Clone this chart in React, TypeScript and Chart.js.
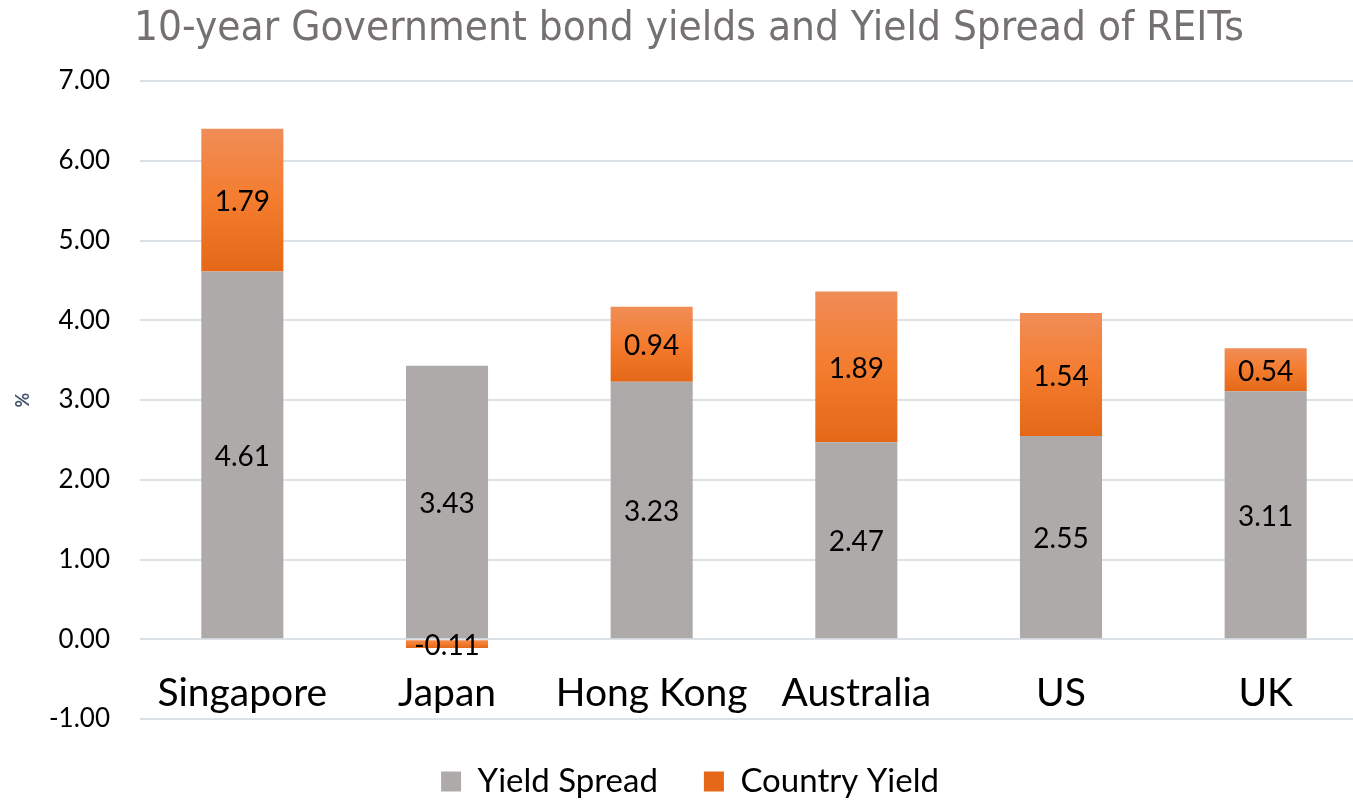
import React, { useEffect, useRef } from "react";
import { Chart, registerables } from "chart.js";

Chart.register(...registerables);

const TITLE = "10-year Government bond yields and Yield Spread of REITs";
const categories = ["Singapore", "Japan", "Hong Kong", "Australia", "US", "UK"];
const yieldSpread = [4.61, 3.43, 3.23, 2.47, 2.55, 3.11];
const countryYield = [1.79, -0.11, 0.94, 1.89, 1.54, 0.54];
const yTickValues = [-1, 0, 1, 2, 3, 4, 5, 6, 7];
const seriesNames = ["Yield Spread", "Country Yield"];
const yAxisTitle = "%";

const GRAY = "#AEAAAA";
const ORANGE_TOP = "#F08D57";
const ORANGE_MID = "#F47C2E";
const ORANGE_BOT = "#E46818";

const orangeFill = (c: any) => {
  const chart = c.chart;
  const i = c.dataIndex;
  if (i === undefined || !chart.chartArea || !chart.scales || !chart.scales.y) return ORANGE_MID;
  const v = countryYield[i];
  const base = v >= 0 ? yieldSpread[i] : 0;
  const end = base + v;
  const yScale = chart.scales.y;
  const yTop = yScale.getPixelForValue(Math.max(base, end));
  const yBot = yScale.getPixelForValue(Math.min(base, end));
  if (!isFinite(yTop) || !isFinite(yBot) || yTop === yBot) return ORANGE_MID;
  const g = chart.ctx.createLinearGradient(0, yTop, 0, yBot);
  g.addColorStop(0, ORANGE_TOP);
  g.addColorStop(0.5, ORANGE_MID);
  g.addColorStop(1, ORANGE_BOT);
  return g;
};

const barLabelPlugin = {
  id: "barLabels",
  afterDatasetsDraw(chart: any) {
    const ctx = chart.ctx;
    ctx.save();
    ctx.font = "28px Lato";
    ctx.fillStyle = "#000000";
    ctx.textAlign = "center";
    ctx.textBaseline = "middle";
    chart.data.datasets.forEach((ds: any, di: number) => {
      const meta = chart.getDatasetMeta(di);
      meta.data.forEach((el: any, i: number) => {
        const v = ds.data[i];
        const p = el.getProps(["x", "y", "base"], true);
        ctx.fillText(Number(v).toFixed(2), p.x, (p.y + p.base) / 2 + 2);
      });
    });
    ctx.restore();
  },
};

const titlePlugin = {
  id: "condensedTitle",
  afterDraw(chart: any) {
    const ctx = chart.ctx;
    ctx.save();
    ctx.font = '41px "DejaVu Sans"';
    ctx.fillStyle = "#767171";
    ctx.textAlign = "left";
    ctx.textBaseline = "alphabetic";
    const w = ctx.measureText(TITLE).width;
    ctx.translate(134, 40);
    ctx.scale(1110 / w, 1);
    ctx.fillText(TITLE, 0, 0);
    ctx.restore();
  },
};

export default function App() {
  const ref = useRef<HTMLCanvasElement | null>(null);

  useEffect(() => {
    if (!ref.current) return;
    const chart = new Chart(ref.current, {
      type: "bar",
      data: {
        labels: categories,
        datasets: [
          {
            label: seriesNames[0],
            data: yieldSpread,
            backgroundColor: GRAY,
            borderWidth: 0,
            categoryPercentage: 1,
            barPercentage: 0.401,
          },
          {
            label: seriesNames[1],
            data: countryYield,
            backgroundColor: orangeFill,
            borderWidth: 0,
            categoryPercentage: 1,
            barPercentage: 0.401,
          },
        ],
      },
      options: {
        responsive: false,
        animation: false,
        devicePixelRatio: 1,
        layout: { padding: { top: 81, left: 12, right: 0, bottom: 0 } },
        plugins: {
          title: { display: false },
          tooltip: { enabled: false },
          legend: {
            display: true,
            position: "bottom",
            labels: {
              font: { family: "Lato", size: 33 },
              color: "#000000",
              boxWidth: 20,
              boxHeight: 20,
              padding: 46,
            },
          },
        },
        scales: {
          x: {
            type: "category",
            position: { y: 0 },
            stacked: true,
            grid: { display: false, drawTicks: false },
            border: { display: false },
            ticks: {
              font: { family: "Lato", size: 39 },
              color: "#000000",
              padding: 31,
              maxRotation: 0,
              autoSkip: false,
            },
          },
          y: {
            type: "linear",
            stacked: true,
            min: -1,
            max: 7,
            grid: { color: "#DCE1E8", lineWidth: 2, drawTicks: false },
            border: { display: false },
            ticks: {
              font: { family: "Lato", size: 26 },
              color: "#000000",
              padding: 30,
              callback: (v: any) => Number(v).toFixed(2),
            },
            afterBuildTicks: (s: any) => {
              s.ticks = yTickValues.map((v) => ({ value: v }));
            },
            afterFit: (s: any) => {
              s.width = 128;
            },
            title: {
              display: true,
              text: yAxisTitle,
              color: "#44546A",
              font: { family: "Lato", size: 18, weight: "bold" },
              padding: { top: 0, bottom: 0 },
            },
          },
        },
      },
      plugins: [barLabelPlugin, titlePlugin],
    });
    return () => chart.destroy();
  }, []);

  return (
    <div style={{ position: "fixed", left: 0, top: 0, width: 1368, height: 808, background: "#ffffff" }}>
      <canvas ref={ref} width={1368} height={808} style={{ display: "block", width: 1368, height: 808 }} />
    </div>
  );
}
